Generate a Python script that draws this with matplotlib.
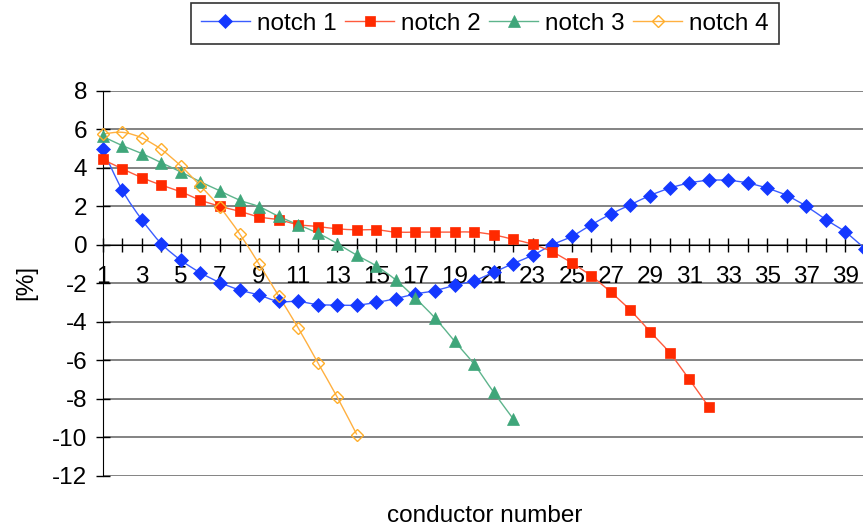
import numpy as np
import matplotlib
matplotlib.use("Agg")
import matplotlib.pyplot as plt
from matplotlib.path import Path
from matplotlib.patches import PathPatch
from matplotlib.lines import Line2D

plt.rcParams['font.family'] = ['Liberation Sans', 'DejaVu Sans']

# Relative deviation [%] per conductor for each notch
notch1 = [4.95, 2.84, 1.31, 0.06, -0.80, -1.45, -1.96, -2.34, -2.61, -2.94,
          -2.94, -3.10, -3.13, -3.13, -2.99, -2.79, -2.55, -2.38, -2.10, -1.86,
          -1.43, -0.97, -0.54, 0.00, 0.44, 1.04, 1.60, 2.08, 2.56, 2.94,
          3.21, 3.35, 3.35, 3.21, 2.94, 2.56, 2.00, 1.31, 0.66, -0.20]
notch2 = [4.43, 3.95, 3.49, 3.10, 2.75, 2.32, 2.00, 1.74, 1.45, 1.30,
          1.05, 0.95, 0.83, 0.78, 0.78, 0.66, 0.66, 0.66, 0.66, 0.66,
          0.52, 0.28, 0.03, -0.37, -0.94, -1.62, -2.46, -3.40, -4.50, -5.60,
          -6.97, -8.40]
notch3 = [5.63, 5.15, 4.74, 4.26, 3.78, 3.27, 2.80, 2.32, 1.98, 1.48,
          1.04, 0.61, 0.06, -0.54, -1.10, -1.83, -2.77, -3.80, -5.00, -6.20,
          -7.65, -9.03]
notch4 = [5.75, 5.84, 5.55, 4.95, 4.09, 3.06, 1.95, 0.58, -1.00, -2.65,
          -4.31, -6.11, -7.91, -9.85]

series_names = ["notch 1", "notch 2", "notch 3", "notch 4"]
series_values = [notch1, notch2, notch3, notch4]
y_ticks = list(range(-12, 9, 2))
x_tick_labels = [str(n) for n in range(1, 41, 2)]

FS = 17.5

styles = [
    dict(color="#1438FF", line="#3A5CFF", marker="D", ms=7.0, fill=True),
    dict(color="#FF2A00", line="#FF5A3C", marker="s", ms=7.0, fill=True),
    dict(color="#3FA67A", line="#5DB48C", marker="^", ms=8.5, fill=True),
    dict(color="#FFAE2A", line="#FFB040", marker="D", ms=6.5, fill=False),
]


def smooth_path(x, y):
    """Cubic Bezier path through the points (Catmull-Rom style tangents)."""
    pts = np.column_stack([x, y]).astype(float)
    n = len(pts)
    verts = [pts[0]]
    codes = [Path.MOVETO]
    for i in range(n - 1):
        p0 = pts[i - 1] if i > 0 else pts[i]
        p1 = pts[i]
        p2 = pts[i + 1]
        p3 = pts[i + 2] if i + 2 < n else pts[i + 1]
        c1 = p1 + (p2 - p0) / 6.0
        c2 = p2 - (p3 - p1) / 6.0
        verts += [c1, c2, p2]
        codes += [Path.CURVE4] * 3
    return Path(verts, codes)


fig = plt.figure(figsize=(8.63, 5.30), dpi=100)
ax = fig.add_axes([102.7 / 863, (530 - 476) / 530, (865 - 102.7) / 863, (476 - 90.7) / 530])

ax.set_xlim(1, 40)
ax.set_ylim(-12, 8)

# horizontal gridlines
for yv in y_ticks:
    ax.axhline(yv, color="#6E6E6E", lw=1.2, zorder=1)

handles = []
for name, vals, st in zip(series_names, series_values, styles):
    xs = np.arange(1, len(vals) + 1)
    patch = PathPatch(smooth_path(xs, vals), fill=False, edgecolor=st["line"],
                      lw=1.0, zorder=3, clip_on=True)
    ax.add_patch(patch)
    face = st["color"] if st["fill"] else "none"
    mew = 0.5 if st["fill"] else 1.0
    ax.plot(xs, vals, linestyle="none", marker=st["marker"], ms=st["ms"],
            markerfacecolor=face, markeredgecolor=st["color"],
            markeredgewidth=mew, zorder=4, clip_on=False)
    handles.append(Line2D([], [], color=st["line"], lw=1.0, marker=st["marker"],
                          ms=st["ms"], markerfacecolor=face,
                          markeredgecolor=st["color"], markeredgewidth=mew))

# axes: x axis crosses at y = 0
ax.spines["bottom"].set_position(("data", 0))
ax.spines["top"].set_visible(False)
ax.spines["right"].set_visible(False)
ax.spines["left"].set_color("black")
ax.spines["bottom"].set_color("black")
ax.spines["left"].set_zorder(2)
ax.spines["bottom"].set_zorder(2)

ax.set_xticks(np.arange(1, 41))
ax.set_xticklabels([str(n) if n % 2 == 1 else "" for n in range(1, 41)])
ax.set_yticks(y_ticks)
ax.set_yticklabels([str(v) for v in y_ticks])
ax.tick_params(axis="x", direction="inout", length=10, width=1.0, pad=10,
               labelsize=FS, color="black")
ax.tick_params(axis="y", direction="inout", length=10, width=1.0, pad=6,
               labelsize=FS, color="black")

fig.text(26 / 863, 1 - 282 / 530, "[%]", rotation=90, ha="center", va="center",
         fontsize=FS)
fig.text(485 / 863, 1 - 516 / 530, "conductor number", ha="center", va="center",
         fontsize=FS)

leg = fig.legend(handles, series_names, loc="upper center",
                 bbox_to_anchor=(485 / 863, 1 - 3 / 530), ncol=4,
                 frameon=True, fancybox=False, fontsize=FS,
                 handlelength=2.0, handletextpad=0.3, columnspacing=0.35,
                 borderpad=0.4, borderaxespad=0)
leg.get_frame().set_edgecolor("black")
leg.get_frame().set_linewidth(1.2)

fig.savefig("out.png", dpi=100)
